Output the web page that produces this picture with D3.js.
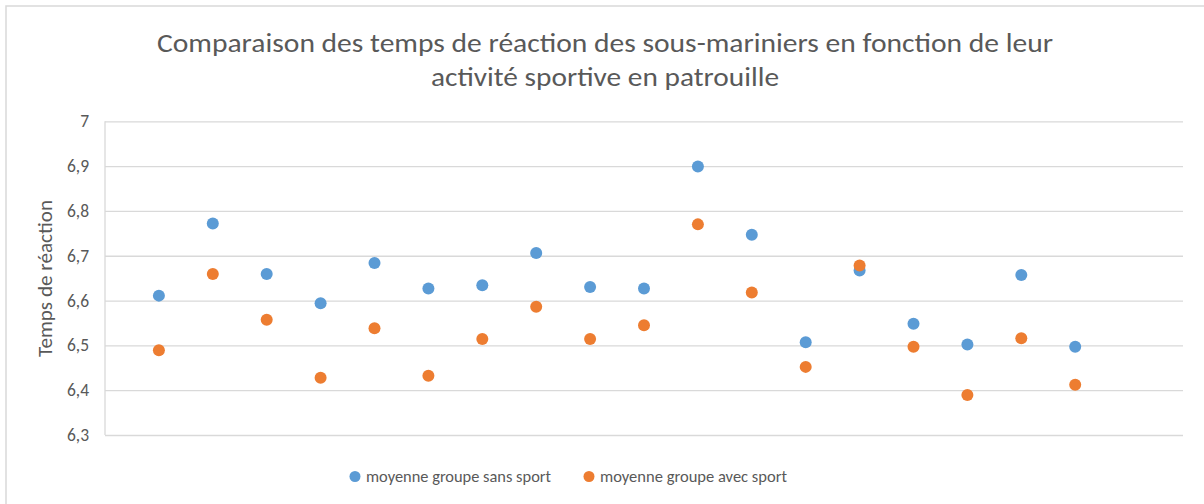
<!DOCTYPE html>
<html>
<head>
<meta charset="utf-8">
<script src="https://cdn.jsdelivr.net/npm/d3@7"></script>
<style>
  html, body { margin: 0; padding: 0; background: #fff; }
  svg { display: block; }
  text { font-family: Carlito, Calibri, "Liberation Sans Narrow", "Open Sans", sans-serif; fill: #595959; }
</style>
</head>
<body>
<svg id="chart" width="1204" height="504"></svg>
<script>
// Patrol sessions (x positions 1..18 on a 0..20 axis)
const sessions = d3.range(1, 19);

// Mean reaction time per session
const sansSport = [6.611, 6.772, 6.659, 6.594, 6.684, 6.627, 6.634, 6.706, 6.630,
                   6.627, 6.899, 6.747, 6.507, 6.667, 6.548, 6.502, 6.657, 6.497];
const avecSport = [6.489, 6.659, 6.557, 6.428, 6.538, 6.432, 6.514, 6.586, 6.514,
                   6.545, 6.770, 6.618, 6.452, 6.678, 6.497, 6.389, 6.516, 6.412];

const yTicks = [6.3, 6.4, 6.5, 6.6, 6.7, 6.8, 6.9, 7];
const titleLines = [
  "Comparaison des temps de réaction des sous-mariniers en fonction de leur",
  "activité sportive en patrouille"
];
const yLabel = "Temps de réaction";
const seriesNames = ["moyenne groupe sans sport", "moyenne groupe avec sport"];
const colors = ["#5B9BD5", "#ED7D31"];

const svg = d3.select("#chart");
const plot = { left: 105, right: 1183, top: 121.3, bottom: 435 };

const x = d3.scaleLinear().domain([0, 20]).range([plot.left, plot.right]);
const y = d3.scaleLinear().domain([6.3, 7]).range([plot.bottom, plot.top]);

// Chart frame (top and left edges)
svg.append("path")
  .attr("d", "M6,504 V6 H1204")
  .attr("fill", "none")
  .attr("stroke", "#D9D9D9")
  .attr("stroke-width", 1.5);

// Title (two centred lines)
const titleWidths = [896, 348];
svg.append("g").selectAll("text")
  .data(titleLines)
  .join("text")
  .attr("x", 605)
  .attr("y", (d, i) => 52 + i * 34)
  .attr("text-anchor", "middle")
  .attr("font-size", 27)
  .attr("textLength", (d, i) => titleWidths[i])
  .attr("lengthAdjust", "spacingAndGlyphs")
  .text(d => d);

// Gridlines + y axis labels
const yAxis = d3.axisLeft(y)
  .tickValues(yTicks)
  .tickSize(-(plot.right - plot.left))
  .tickPadding(16)
  .tickFormat(d => d3.format(".1f")(d).replace(".", ",").replace(",0", ""));

const gy = svg.append("g")
  .attr("transform", `translate(${plot.left},0)`)
  .call(yAxis);
gy.select(".domain").remove();
gy.selectAll(".tick line").attr("stroke", "#D9D9D9").attr("stroke-width", 1.3);
gy.selectAll(".tick text")
  .attr("font-size", 17.5)
  .attr("fill", "#595959")
  .attr("font-family", "Carlito, Calibri, 'Liberation Sans Narrow', 'Open Sans', sans-serif");

// Left edge of the plot area
svg.append("line")
  .attr("x1", plot.left).attr("x2", plot.left)
  .attr("y1", plot.top).attr("y2", plot.bottom)
  .attr("stroke", "#D9D9D9").attr("stroke-width", 1.3);

// Y axis title
svg.append("text")
  .attr("transform", `translate(52,278.5) rotate(-90)`)
  .attr("text-anchor", "middle")
  .attr("font-size", 20)
  .attr("textLength", 157)
  .attr("lengthAdjust", "spacingAndGlyphs")
  .text(yLabel);

// Points
[sansSport, avecSport].forEach((vals, s) => {
  svg.append("g").selectAll("circle")
    .data(vals)
    .join("circle")
    .attr("cx", (d, i) => x(sessions[i]))
    .attr("cy", d => y(d))
    .attr("r", 6)
    .attr("fill", colors[s]);
});

// Legend
const legendX = [355, 589];
const legendWidths = [185, 187];
const legend = svg.append("g");
seriesNames.forEach((name, i) => {
  legend.append("circle")
    .attr("cx", legendX[i]).attr("cy", 476.5).attr("r", 5.5)
    .attr("fill", colors[i]);
  legend.append("text")
    .attr("x", legendX[i] + 11).attr("y", 482)
    .attr("font-size", 16.5)
    .attr("textLength", legendWidths[i])
    .attr("lengthAdjust", "spacingAndGlyphs")
    .text(name);
});
</script>
</body>
</html>
